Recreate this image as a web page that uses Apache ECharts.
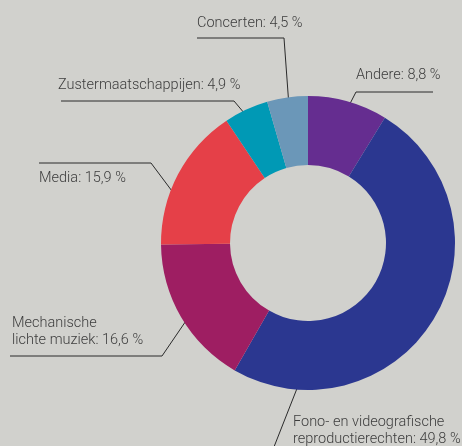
<!DOCTYPE html>
<html>
<head>
<meta charset="utf-8">
<script src="https://cdn.jsdelivr.net/npm/echarts@6/dist/echarts.min.js"></script>
<style>
  html, body { margin: 0; padding: 0; background: #d1d1cd; }
  #chart { width: 462px; height: 446px; }
</style>
</head>
<body>
<div id="chart"></div>
<script>
// slices, clockwise from 12 o'clock
const names = [
  'Andere',
  'Fono- en videografische\nreproductierechten',
  'Mechanische\nlichte muziek',
  'Media',
  'Zustermaatschappijen',
  'Concerten'
]
const values = [8.8, 49.8, 16.6, 15.9, 4.9, 4.5]
const colors = ['#652d90', '#2b3790', '#9e1e62', '#e54048', '#0099b5', '#6b97b8']

// label placement (text anchor + leader line bend points)
const center = [308, 243]
const leaderR = 133
const labelSpots = [
  { x: 356, y: 75, bend: [[356, 92], [433, 92]] },
  { x: 293, y: 431, angle: 182.6, bend: [[272, 452]] },
  { x: 12, y: 332, bend: [[162, 356], [10, 356]] },
  { x: 39, y: 178, angle: 287.4, bend: [[151, 163], [39, 163]] },
  { x: 58, y: 85, bend: [[234, 101], [61, 101]] },
  { x: 197, y: 23, bend: [[284, 38], [197, 38]] }
]

const chart = echarts.init(document.getElementById('chart'))

function leaderStart(params) {
  const spot = labelSpots[params.dataIndex]
  if (spot.angle != null) {
    const a = spot.angle * Math.PI / 180
    return [center[0] + leaderR * Math.sin(a), center[1] - leaderR * Math.cos(a)]
  }
  const p = params.labelLinePoints[0]
  const dx = p[0] - center[0]
  const dy = p[1] - center[1]
  const d = Math.sqrt(dx * dx + dy * dy)
  return [center[0] + dx / d * leaderR, center[1] + dy / d * leaderR]
}

chart.setOption({
  backgroundColor: '#d1d1cd',
  animation: false,
  series: [{
    type: 'pie',
    center: center,
    radius: [78, 147],
    startAngle: 90,
    clockwise: true,
    avoidLabelOverlap: false,
    data: names.map((n, i) => ({ name: n, value: values[i], itemStyle: { color: colors[i] } })),
    itemStyle: { borderWidth: 0 },
    emphasis: { disabled: true },
    label: {
      show: true,
      position: 'outside',
      overflow: 'none',
      color: '#3d3d3d',
      fontFamily: 'Roboto',
      fontWeight: 300,
      fontSize: 14.5,
      lineHeight: 17,
      formatter: p => p.name + ': ' + String(p.value).replace('.', ',') + ' %'
    },
    labelLine: {
      show: true,
      lineStyle: { color: '#2a2a2a', width: 1 }
    },
    labelLayout: params => {
      const spot = labelSpots[params.dataIndex]
      return {
        x: spot.x,
        y: spot.y,
        align: 'left',
        verticalAlign: 'middle',
        labelLinePoints: [leaderStart(params)].concat(spot.bend)
      }
    }
  }]
})
</script>
</body>
</html>
